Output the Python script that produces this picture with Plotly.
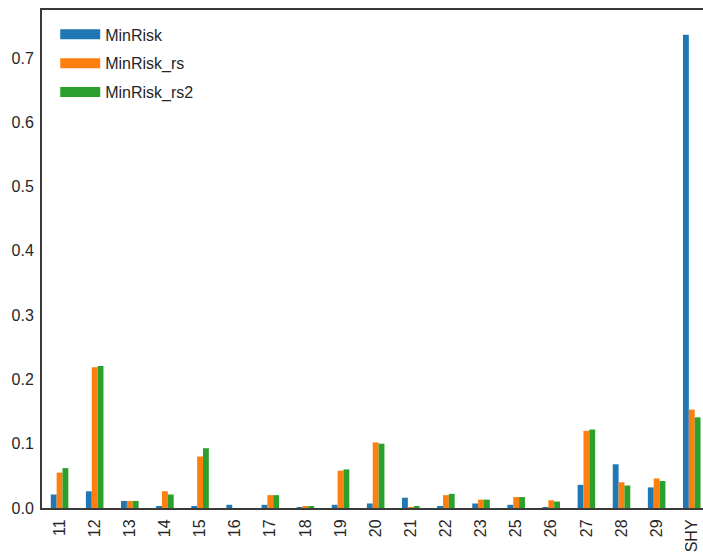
import plotly.graph_objects as go

# Portfolio weights per asset for three minimum-risk variants
assets = ["11", "12", "13", "14", "15", "16", "17", "18", "19", "20",
          "21", "22", "23", "25", "26", "27", "28", "29", "SHY"]
min_risk = [0.021, 0.026, 0.011, 0.003, 0.003, 0.005, 0.005, 0.001, 0.005, 0.007,
            0.016, 0.003, 0.007, 0.005, 0.0005, 0.036, 0.068, 0.032, 0.736]
min_risk_rs = [0.055, 0.219, 0.011, 0.026, 0.080, 0.0, 0.020, 0.003, 0.058, 0.102,
               0.0005, 0.020, 0.013, 0.017, 0.012, 0.120, 0.040, 0.046, 0.153]
min_risk_rs2 = [0.062, 0.221, 0.011, 0.021, 0.093, 0.0, 0.020, 0.003, 0.060, 0.100,
                0.002, 0.022, 0.013, 0.017, 0.010, 0.122, 0.035, 0.042, 0.141]

series = [
    ("MinRisk", min_risk, "#1f77b4"),
    ("MinRisk_rs", min_risk_rs, "#ff7f0e"),
    ("MinRisk_rs2", min_risk_rs2, "#2ca02c"),
]

fig = go.Figure()
for name, vals, color in series:
    fig.add_trace(go.Bar(
        x=assets, y=vals, name=name, legendgroup=name, showlegend=False,
        marker=dict(color=color, line=dict(width=0)),
    ))
    # wide patch-style legend key for the bar series
    fig.add_trace(go.Scatter(
        x=[None], y=[None], mode="lines", name=name, legendgroup=name,
        line=dict(color=color, width=13), hoverinfo="skip",
    ))

text_color = "#262626"
spine = "#3a3a3a"

fig.update_layout(
    width=703, height=556,
    margin=dict(l=42, r=0, t=10, b=48),
    paper_bgcolor="white", plot_bgcolor="white",
    barmode="group", bargap=0.5, bargroupgap=0.0,
    font=dict(family="Liberation Sans, Arial, sans-serif", size=16, color=text_color),
    legend=dict(
        x=0.02, y=0.985, xanchor="left", yanchor="top",
        bgcolor="rgba(0,0,0,0)", borderwidth=0,
        font=dict(size=16, color=text_color),
        tracegroupgap=5, itemwidth=40,
    ),
    xaxis=dict(
        type="category", range=[-0.5, 18.32],
        showline=True, linecolor=spine, linewidth=2, mirror=True,
        showgrid=False, zeroline=False, ticks="", tickangle=-90,
        ticklabelstandoff=3,
        tickfont=dict(size=16, color=text_color),
    ),
    yaxis=dict(
        range=[0, 0.7745], tickvals=[0, 0.1, 0.2, 0.3, 0.4, 0.5, 0.6, 0.7],
        tickformat=".1f",
        showline=True, linecolor=spine, linewidth=2, mirror=False,
        showgrid=False, zeroline=False, ticks="",
        ticklabelstandoff=3,
        tickfont=dict(size=16, color=text_color),
    ),
)

fig.write_html("out.html")
